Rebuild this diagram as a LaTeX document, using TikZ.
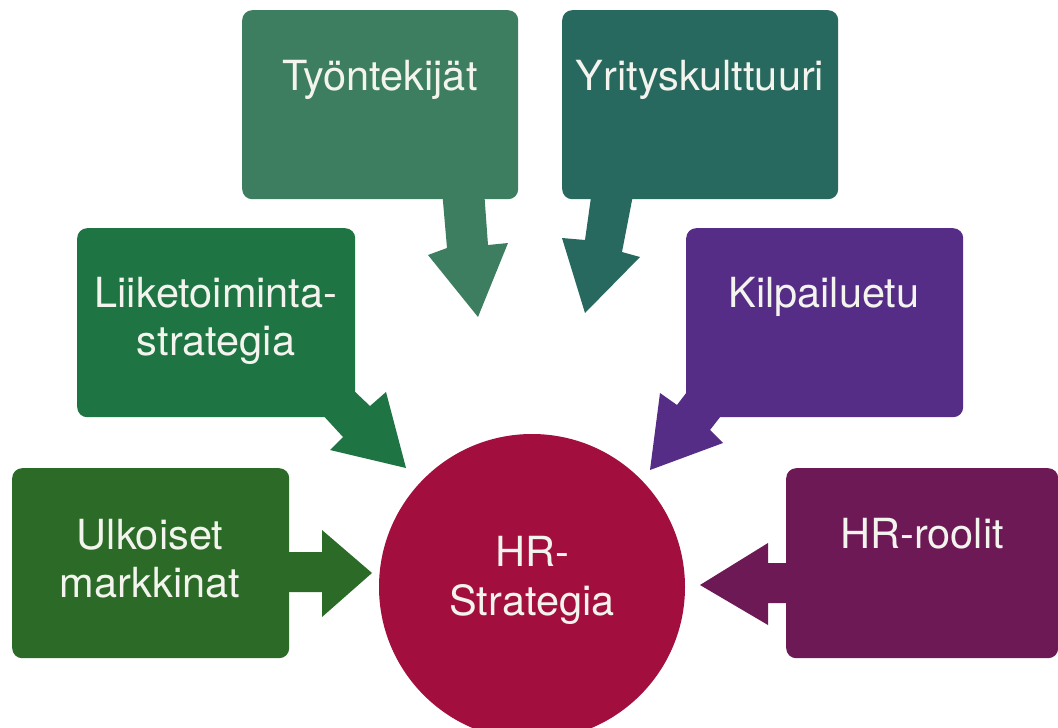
\documentclass[tikz,border=0pt]{standalone}
\usepackage{fontspec}
\setmainfont{TeX Gyre Heros}
\definecolor{cT}{HTML}{3E7E60}
\definecolor{cY}{HTML}{28695F}
\definecolor{cL}{HTML}{1F7443}
\definecolor{cK}{HTML}{552D86}
\definecolor{cU}{HTML}{2B6A27}
\definecolor{cH}{HTML}{6D1955}
\definecolor{cC}{HTML}{A20F3E}
\definecolor{txt}{HTML}{F4F4EE}
\begin{document}
\begin{tikzpicture}[x=1pt,y=-1pt,
  box/.style={rounded corners=10pt, minimum width=276pt, minimum height=189pt, anchor=north west, inner sep=0pt, draw=none},
  lbl/.style={text=txt, anchor=base, inner sep=0pt, font=\fontsize{41.5}{49}\selectfont}]
\useasboundingbox[fill=white] (0,0) rectangle (1058,728);
\begin{scope}
\clip (0,0) rectangle (1058,728);
% block arrows
\fill[cT] (442,190) -- (447,248) -- (428,255) -- (478,317) -- (508,243) -- (488,245) -- (484,190) -- cycle;
\fill[cY] (592,190) -- (585,240) -- (562,238) -- (585,313) -- (640,257) -- (622,252) -- (634,190) -- cycle;
\fill[cL] (350,387) -- (370,406) -- (386,392) -- (406,468) -- (330,450) -- (343,437) -- (320,412) -- cycle;
\fill[cK] (690,388) -- (677,405) -- (660,393) -- (650,470) -- (723,443) -- (710,430) -- (724,412) -- cycle;
\fill[cU] (285,552) -- (322,552) -- (322,530) -- (372,573) -- (322,617) -- (322,592) -- (285,592) -- cycle;
\fill[cH] (790,563) -- (768,563) -- (768,543) -- (700,585) -- (768,625) -- (768,603) -- (790,603) -- cycle;
% boxes
\node[box, fill=cT] (T) at (242,10) {};
\node[box, fill=cY] (Y) at (562,10) {};
\node[box, fill=cL, minimum width=278pt] (L) at (77,228) {};
\node[box, fill=cK, minimum width=277pt] (K) at (686,228) {};
\node[box, fill=cU, minimum width=277pt, minimum height=190pt] (U) at (12,468) {};
\node[box, fill=cH, minimum width=272pt, minimum height=190pt] (H) at (786,468) {};
% circle
\node[circle, fill=cC, minimum size=306pt, inner sep=0pt] (C) at (532,587) {};
% labels
\node[lbl] (Tt) at (380,90) {Työntekijät};
\node[lbl] (Yt) at (700,90) {Yrityskulttuuri};
\node[lbl] (Lt1) at (216,307) {Liiketoiminta-};
\node[lbl] (Lt2) at (216,355) {strategia};
\node[lbl] (Kt) at (824,307) {Kilpailuetu};
\node[lbl] (Ut1) at (150,549) {Ulkoiset};
\node[lbl] (Ut2) at (150,597) {markkinat};
\node[lbl] (Ht) at (922,548) {HR-roolit};
\node[lbl] (Ct1) at (532,566) {HR-};
\node[lbl] (Ct2) at (532,615) {Strategia};
\end{scope}
\end{tikzpicture}
\end{document}
